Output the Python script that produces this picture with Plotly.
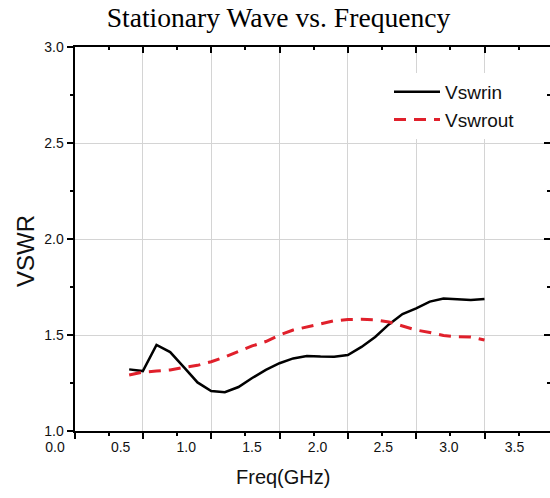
import plotly.graph_objects as go

freq_ghz = [0.4, 0.5, 0.6, 0.7, 0.8, 0.9, 1.0, 1.1, 1.2, 1.3, 1.4, 1.5, 1.6, 1.7,
            1.8, 1.9, 2.0, 2.1, 2.2, 2.3, 2.4, 2.5, 2.6, 2.7, 2.8, 2.9, 3.0]
vswr_in = [1.321, 1.312, 1.448, 1.411, 1.333, 1.253, 1.208, 1.202, 1.229, 1.276,
           1.318, 1.353, 1.378, 1.391, 1.388, 1.387, 1.396, 1.438, 1.490, 1.555,
           1.609, 1.639, 1.674, 1.690, 1.686, 1.682, 1.688]
vswr_out = [1.292, 1.307, 1.312, 1.318, 1.331, 1.342, 1.361, 1.385, 1.415, 1.443,
            1.466, 1.500, 1.526, 1.542, 1.560, 1.574, 1.581, 1.582, 1.579, 1.568,
            1.547, 1.526, 1.513, 1.497, 1.491, 1.490, 1.474]
x_tick_vals = [0.0, 0.5, 1.0, 1.5, 2.0, 2.5, 3.0, 3.5]
x_tick_text = ["0.0", "0.5", "1.0", "1.5", "2.0", "2.5", "3.0", "3.5"]
y_tick_vals = [1.0, 1.5, 2.0, 2.5, 3.0]
y_tick_text = ["1.0", "1.5", "2.0", "2.5", "3.0"]

W, H = 550, 498
ML, MR, MT, MB = 40, 0, 47, 67
plot_w = W - ML - MR
plot_h = H - MT - MB
axis_left_px = 74.5
x_dom0 = (axis_left_px - ML) / plot_w
x_range = [0, (W - MR - axis_left_px) / 136.67]

# label axis: 0.0 at 55 px, 131.3 px per GHz
lab_slope = 131.3
lab_r0 = -(55 - ML) / lab_slope
lab_r1 = lab_r0 + plot_w / lab_slope


def px_x(p):
    return (p - ML) / plot_w


def px_y(p):
    return (H - MB - p) / plot_h


FONT = "Liberation Sans, Arial, sans-serif"

fig = go.Figure()
fig.add_trace(go.Scatter(x=freq_ghz, y=vswr_in, mode="lines", name="Vswrin",
                         line=dict(color="#000000", width=2.5)))
fig.add_trace(go.Scatter(x=freq_ghz, y=vswr_out, mode="lines", name="Vswrout",
                         line=dict(color="#e0202b", width=3, dash="12px,8px")))
fig.add_trace(go.Scatter(x=[], y=[], xaxis="x2", yaxis="y3", showlegend=False, hoverinfo="skip"))
fig.add_trace(go.Scatter(x=[], y=[], xaxis="x3", showlegend=False, hoverinfo="skip"))
fig.add_trace(go.Scatter(x=[], y=[], yaxis="y2", showlegend=False, hoverinfo="skip"))

fig.update_layout(
    width=W, height=H,
    margin=dict(l=ML, r=MR, t=MT, b=MB),
    paper_bgcolor="white", plot_bgcolor="rgba(0,0,0,0)",
    font=dict(family=FONT, color="#111111"),
    title=dict(text="Stationary Wave vs. Frequency", xref="container", yref="container",
               x=278.5 / W, xanchor="center", y=1 - 17 / H, yanchor="middle",
               font=dict(family="Liberation Serif, Times New Roman, serif", size=27.6, color="#000")),
    xaxis=dict(domain=[x_dom0, 1], range=x_range, tickvals=x_tick_vals, showticklabels=False,
               ticks="outside", ticklen=6, tickwidth=1.5, tickcolor="#000",
               minor=dict(ticks="outside", ticklen=3, tickwidth=1.5, tickcolor="#000",
                          dtick=0.25, tick0=0, showgrid=False),
               showline=True, linecolor="#000", linewidth=2,
               showgrid=True, gridcolor="#d4d4d4", gridwidth=1, zeroline=False,
               anchor="y", automargin=False),
    xaxis2=dict(domain=[0, 1], range=[lab_r0, lab_r1], anchor="y3", side="bottom",
                tickvals=x_tick_vals, ticktext=x_tick_text,
                ticks="outside", ticklen=3, tickcolor="rgba(0,0,0,0)",
                showline=False, showgrid=False, zeroline=False, automargin=False,
                tickfont=dict(size=14, family=FONT, color="#111")),
    xaxis3=dict(overlaying="x", side="top", anchor="y", range=x_range,
                tickvals=x_tick_vals, showticklabels=False,
                ticks="inside", ticklen=6, tickwidth=1.5, tickcolor="#000",
                minor=dict(ticks="inside", ticklen=3, tickwidth=1.5, tickcolor="#000",
                           dtick=0.25, tick0=0, showgrid=False),
                showline=True, linecolor="#000", linewidth=2,
                showgrid=False, zeroline=False, automargin=False),
    yaxis=dict(range=[1, 3], tickvals=y_tick_vals, ticktext=y_tick_text,
               ticks="outside", ticklen=6, tickwidth=1.5, tickcolor="#000",
               minor=dict(ticks="outside", ticklen=3, tickwidth=1.5, tickcolor="#000",
                          dtick=0.25, tick0=1, showgrid=False),
               showline=True, linecolor="#000", linewidth=2,
               showgrid=True, gridcolor="#d4d4d4", gridwidth=1, zeroline=False,
               tickfont=dict(size=14, family=FONT, color="#111"),
               anchor="x", automargin=False),
    yaxis2=dict(overlaying="y", side="right", anchor="x", range=[1, 3],
                tickvals=y_tick_vals, showticklabels=False,
                ticks="inside", ticklen=6, tickwidth=1.5, tickcolor="#000",
                minor=dict(ticks="inside", ticklen=3, tickwidth=1.5, tickcolor="#000",
                           dtick=0.25, tick0=1, showgrid=False),
                showline=False, showgrid=False, zeroline=False, automargin=False),
    yaxis3=dict(domain=[0, 1], anchor="x2", range=[0, 1], visible=False,
                showgrid=False, zeroline=False, automargin=False),
    legend=dict(x=px_x(389), xanchor="left",
                y=px_y(73), yanchor="top",
                bgcolor="white", borderwidth=0, itemwidth=46,
                font=dict(size=19, family=FONT, color="#111"), tracegroupgap=0),
    showlegend=True,
    annotations=[
        dict(text="Freq(GHz)", xref="paper", yref="paper",
             x=px_x(283), y=px_y(477),
             xanchor="center", yanchor="middle", showarrow=False,
             font=dict(size=20, family=FONT, color="#111")),
        dict(text="VSWR", xref="paper", yref="paper",
             x=px_x(25), y=px_y(251),
             xanchor="center", yanchor="middle", showarrow=False, textangle=-90,
             font=dict(size=24, family=FONT, color="#111")),
    ],
)

fig.write_html("out.html", config={"displayModeBar": False},
               post_script="document.body.style.margin='0px';")
